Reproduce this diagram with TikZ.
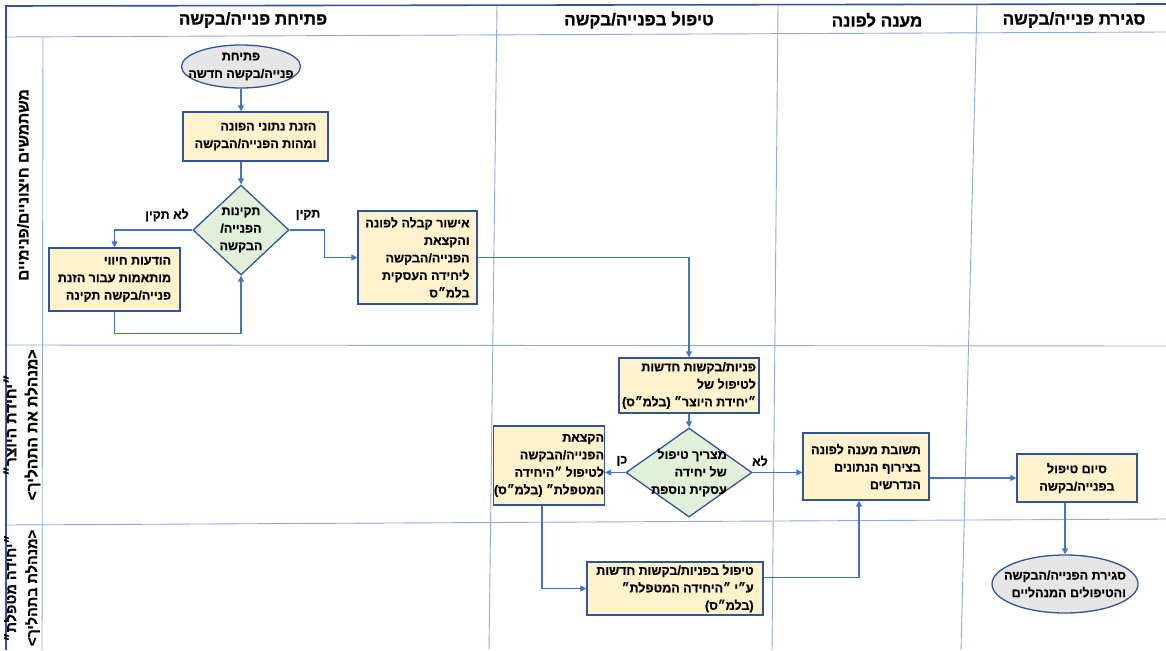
\documentclass[tikz,border=0pt]{standalone}
\usepackage{fontspec}
\newfontfamily\heb[Script=Hebrew, BoldFeatures={FakeBold=0.8}]{Liberation Sans}
\TeXXeTstate=1
\usetikzlibrary{arrows.meta,shapes.geometric,calc}
\definecolor{boxfill}{HTML}{FFF2CC}
\definecolor{decfill}{HTML}{E2F0D9}
\definecolor{termfill}{HTML}{E7E6E6}
\definecolor{edgeblue}{HTML}{2F5597}
\definecolor{flowblue}{HTML}{4472C4}
\definecolor{gridblue}{HTML}{8FAADC}
\definecolor{frameblue}{HTML}{2F5597}
\begin{document}
\begin{tikzpicture}[x=1pt,y=-1pt,
  gridline/.style={draw=gridblue, line width=0.9pt},
  frameline/.style={draw=frameblue, line width=1.6pt},
  head/.style={font=\heb\bfseries\fontsize{17}{20}\selectfont, inner sep=0pt},
  lanelab/.style={font=\heb\bfseries\fontsize{15.5}{21}\selectfont, inner sep=0pt, rotate=90, align=center},
  txt/.style={font=\heb\bfseries\fontsize{12.5}{17.5}\selectfont},
  box/.style={txt, draw=edgeblue, fill=boxfill, line width=1.3pt, inner xsep=3pt, inner ysep=2pt, align=right},
  decision/.style={shape=diamond, draw=edgeblue, fill=decfill, line width=1.3pt, inner sep=0pt},
  terminal/.style={shape=ellipse, draw=edgeblue, fill=termfill, line width=1.3pt, inner sep=0pt},
  intext/.style={txt, inner sep=0pt},
  lbl/.style={txt, inner sep=0pt},
  flow/.style={draw=flowblue, line width=1.2pt, -{Triangle[length=6pt,width=6pt]}},
]
\useasboundingbox (0,0) rectangle (1166,650);
\clip (0,0) rectangle (1166,650);

% swimlane table
\draw[gridline] (5,37) -- (1166,32);
\draw[gridline] (5,345) -- (1166,346);
\draw[gridline] (5,525) -- (1166,519);
\draw[gridline] (43,37) -- (42,650);
\draw[gridline] (497,5) -- (489,650);
\draw[gridline] (778,5) -- (772,650);
\draw[gridline] (977,4) -- (961,650);
\draw[frameline] (5,6) -- (1166,4);
\draw[frameline] (6,5) -- (6,650);

% column headings
\node[head] (h1) at (253,20) {\beginR פתיחת פנייה/בקשה\endR};
\node[head] (h2) at (639,20) {\beginR טיפול בפנייה/בקשה\endR};
\node[head] (h3) at (877,20) {\beginR מענה לפונה\endR};
\node[head] (h4) at (1074,20) {\beginR סגירת פנייה/בקשה\endR};

% lane headings
\node[lanelab] (lane1) at (23,185) {\beginR משתמשים חיצוניים/פנימיים\endR};
\node[lanelab] (lane2) at (22,425) {\beginR ״יחידת היוצר״\endR\\\beginR <מנהלת את התהליך>\endR};
\node[lanelab, font=\heb\bfseries\fontsize{14.5}{21}\selectfont] (lane3) at (22,588) {\beginR ״יחידה מטפלת״\endR\\\beginR <מנהלת בתהליך>\endR};

% lane 1: opening
\node[terminal, minimum width=119pt, minimum height=43pt,
  label={[intext, align=center]center:{\beginR פתיחת\endR\\\beginR פנייה/בקשה חדשה\endR}}] (start) at (241,66.5) {};
\node[box, minimum width=145pt, minimum height=49pt] (enter) at (255.5,136.5)
  {\beginR הזנת נתוני הפונה\endR\\\beginR ומהות הפנייה/הבקשה\endR};
\node[decision, minimum width=96pt, minimum height=90pt,
  label={[intext, align=center]center:{\beginR תקינות\endR\\\beginR הפנייה/\endR\\\beginR הבקשה\endR}}] (chk) at (241,230) {};
\node[box, minimum width=131pt, minimum height=63pt] (warn) at (114.5,279.5)
  {\beginR הודעות חיווי\endR\\\beginR מותאמות עבור הזנת\endR\\\beginR פנייה/בקשה תקינה\endR};
\node[box, minimum width=119pt, minimum height=93pt] (ack) at (417.5,257.5)
  {\beginR אישור קבלה לפונה\endR\\\beginR והקצאת\endR\\\beginR הפנייה/הבקשה\endR\\\beginR ליחידה העסקית\endR\\\beginR בלמ״ס\endR};

% lane 2: owning unit
\node[box, minimum width=140pt, minimum height=55pt] (newreq) at (689,385.5)
  {\beginR פניות/בקשות חדשות\endR\\\beginR לטיפול של~\endR\\\beginR ״יחידת היוצר״ (בלמ״ס)\endR};
\node[decision, minimum width=126pt, minimum height=89pt,
  label={[intext, align=right]center:{\beginR מצריך טיפול\endR\\\beginR של יחידה\endR\\\beginR עסקית נוספת\endR}}] (need) at (689,472.5) {};
\node[box, inner xsep=0.5pt, minimum width=104pt, minimum height=79pt] (assign) at (549,465.5)
  {\beginR הקצאת\endR\\\beginR הפנייה/הבקשה\endR\\\beginR לטיפול ״היחידה\endR\\\beginR המטפלת״ (בלמ״ס)\endR};
\node[box, minimum width=126pt, minimum height=67pt] (reply) at (866,466.5)
  {\beginR תשובת מענה לפונה\endR\\\beginR בצירוף הנתונים\endR\\\beginR הנדרשים\endR};
\node[box, align=center, minimum width=120pt, minimum height=48pt] (done) at (1077,478)
  {\beginR סיום טיפול\endR\\\beginR בפנייה/בקשה\endR};
\node[terminal, minimum width=146pt, minimum height=58pt,
  label={[intext, align=right]center:{\beginR סגירת הפנייה/הבקשה\endR\\\beginR והטיפולים המנהליים\endR}}] (close) at (1065,584) {};

% lane 3: handling unit
\node[box, minimum width=176pt, minimum height=53pt] (handle) at (675,588.5)
  {\beginR טיפול בפניות/בקשות חדשות\endR\\\beginR ע״י ״היחידה המטפלת״~\endR\\\beginR (בלמ״ס)\endR};

% branch labels
\node[lbl] (lno) at (167,215) {\beginR לא תקין\endR};
\node[lbl] (lok) at (308,215) {\beginR תקין\endR};
\node[lbl] (lyes) at (622,461) {\beginR כן\endR};
\node[lbl] (lnot) at (760,461) {\beginR לא\endR};

% connectors
\draw[flow] (start.south) -- (start.south |- enter.north);
\draw[flow] (chk.north |- enter.south) -- (chk.north);
\draw[flow] (chk.west) -| (warn.north);
\draw[flow] (warn.south) -- ++(0,22) -| (chk.south);
\draw[flow] (chk.east) -- ++(35,0) |- (ack.west);
\draw[flow] (ack.east) -| (newreq.north);
\draw[flow] (newreq.south) -- (need.north);
\draw[flow] (need.west) -- (need.west -| assign.east);
\draw[flow] (need.east) -- (need.east -| reply.west);
\draw[flow] (done.west -| reply.east) -- (done.west);
\draw[flow] (close.north |- done.south) -- (close.north);
\draw[flow] ([xshift=-7pt]assign.south) |- (handle.west);
\draw[flow] ($(handle.east)+(0,-11)$) -| ([xshift=-7pt]reply.south);
\end{tikzpicture}
\end{document}
